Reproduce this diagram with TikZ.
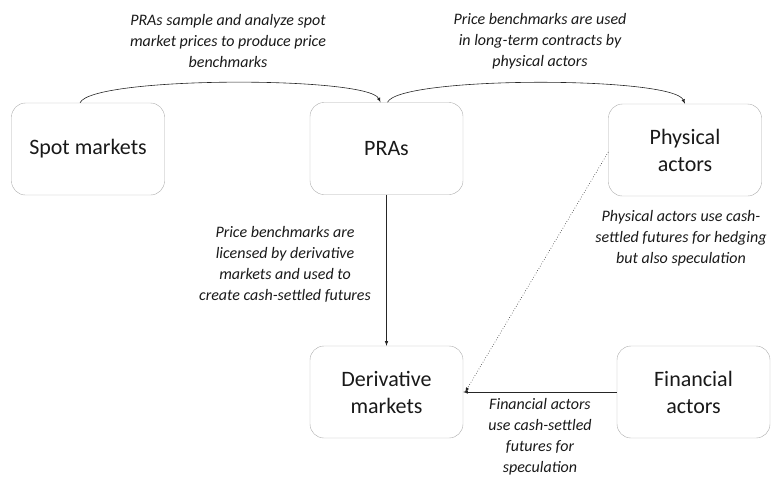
\documentclass[tikz,border=0pt]{standalone}
\usepackage{fontspec}
\setmainfont{Carlito}
\usepackage{tikz}
\usetikzlibrary{arrows,calc}

\begin{document}
\begin{tikzpicture}[x=1pt, y=-1pt, >=latex]

% Rounded boxes and italic notes
\tikzstyle{block} = [draw=gray!65, rectangle, rounded corners=14pt, minimum height=92pt, minimum width=153pt, align=center, font=\fontsize{22}{27}\selectfont, text=black!90]
\tikzstyle{note} = [align=center, font=\fontsize{16}{21}\selectfont\itshape, text=black!90]
\tikzstyle{link} = [->, black!85, line width=0.6pt]

\useasboundingbox (0,0) rectangle (777,477);

% Boxes
\node[block] (spot) at (88, 149) {Spot markets};
\node[block] (pras) at (386.5, 148.5) {PRAs};
\node[block] (phys) at (685, 150) {Physical\\actors};
\node[block] (deriv) at (386.5, 392) {Derivative\\markets};
\node[block] (fin) at (693.5, 392) {Financial\\actors};

% Top arcs
\draw[link] ([xshift=-8pt]spot.north) .. controls (92, 76) and (368, 76) .. ([xshift=-6pt]pras.north);
\draw[link] ([xshift=1pt]pras.north) .. controls (399, 76) and (673, 76) .. (phys.north);

\node[note] (n1) at (228, 41) {PRAs sample and analyze spot\\market prices to produce price\\benchmarks};
\node[note] (n2) at (540, 41) {Price benchmarks are used\\in long-term contracts by\\physical actors};

% PRAs down to derivative markets
\draw[link] (pras.south) -- (deriv.north);
\node[note] (n3) at (285, 264) {Price benchmarks are\\licensed by derivative\\markets and used to\\create cash-settled futures};

% Physical actors (dotted) and financial actors
\draw[link, dotted] ([yshift=-2pt]phys.west) -- ([xshift=2pt]deriv.east);
\node[note] (n4) at (681, 238) {Physical actors use cash-\\settled futures for hedging\\but also speculation};

\draw[link] (fin.west) -- (deriv.east);
\node[note] (n5) at (540, 437) {Financial actors\\use cash-settled\\futures for\\speculation};

\end{tikzpicture}
\end{document}
